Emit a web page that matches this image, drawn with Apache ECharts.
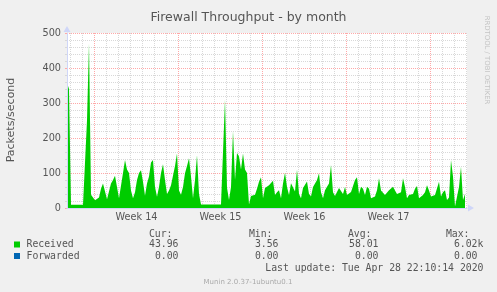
<!DOCTYPE html>
<html><head><meta charset="utf-8">
<script src="https://cdn.jsdelivr.net/npm/echarts@6/dist/echarts.min.js"></script>
<style>html,body{margin:0;padding:0;background:#f0f0f0}#c{width:497px;height:292px}</style>
</head><body><div id="c"></div>
<script>
const chartTitle = 'Firewall Throughput - by month';
const yAxisName = 'Packets/second';
const weekLabels = ['Week 14', 'Week 15', 'Week 16', 'Week 17'];
const stepHours = 4;          // one sample every 4 hours
const spanHours = 800;        // visible time span
const yMax = 500;
// Received packets/second, one value per 4 hours, oldest first
const received = [
  358, 340, 9, 9, 9, 9, 9, 9, 9, 9,
  250, 470, 38, 36, 22, 20, 30, 55, 70, 72,
  25, 22, 70, 80, 92, 60, 28, 30, 100, 137,
  110, 100, 50, 28, 45, 80, 100, 108, 75, 35,
  70, 90, 130, 137, 60, 32, 60, 100, 125, 80,
  40, 50, 65, 60, 120, 156, 50, 38, 60, 99,
  120, 142, 90, 28, 80, 151, 40, 10, 10, 10,
  10, 10, 10, 10, 10, 10, 10, 10, 10, 310,
  58, 23, 60, 220, 80, 157, 147, 110, 156, 110,
  100, 10, 34, 36, 38, 55, 75, 88, 28, 57,
  57, 65, 70, 78, 37, 45, 51, 28, 70, 101,
  60, 37, 71, 76, 47, 109, 40, 28, 57, 60,
  76, 40, 33, 60, 65, 80, 99, 45, 28, 51,
  61, 70, 123, 45, 34, 36, 57, 60, 40, 60,
  37, 37, 46, 50, 80, 88, 40, 61, 55, 37,
  61, 55, 28, 30, 33, 51, 85, 50, 46, 37,
  40, 51, 55, 61, 50, 40, 37, 45, 85, 60,
  28, 37, 35, 40, 55, 63, 28, 30, 37, 45,
  65, 50, 33, 28, 37, 40, 75, 33, 45, 51,
  23, 30, 137, 90, 4, 4, 60, 118, 23, 40
];
const legendNames = ['Received', 'Forwarded'];
const statHeaders = ['Cur:', 'Min:', 'Avg:', 'Max:'];
const receivedStats = ['43.96', '3.56', '58.01', '6.02k'];
const forwardedStats = ['0.00', '0.00', '0.00', '0.00'];
const lastUpdate = 'Last update: Tue Apr 28 22:10:14 2020';
const footerText = 'Munin 2.0.37-1ubuntu0.1';
const watermark = 'RRDTOOL / TOBI OETIKER';

const COLORS = ['#00cc00', '#0066b3'];
const AXIS_COLOR = '#cfd6f8';
const MINOR = '#d8d8d8';
const MAJOR = '#ffa8a8';
const FONT = 'DejaVu Sans';
const MONO = 'DejaVu Sans Mono';
const TXT = '#555555';

const chart = echarts.init(document.getElementById('c'), null, {renderer: 'canvas'});

const PL = 67, PT = 33, PW = 400, PH = 175;
const hidden = {show: false};

const graphics = [];
graphics.push({type: 'text', x: 11, y: 120, rotation: Math.PI / 2,
  style: {text: yAxisName, font: '11px "' + FONT + '"', fill: TXT, align: 'center', verticalAlign: 'middle'}});
graphics.push({type: 'text', x: 487, y: 60, rotation: -Math.PI / 2,
  style: {text: watermark, font: '6.9px "' + FONT + '"', fill: '#c4c4c4', align: 'center', verticalAlign: 'middle'}});
const monoFont = '9.8px "' + MONO + '"';
const headerRight = [172.5, 272.5, 371.5, 469.5];
statHeaders.forEach((h, i) => graphics.push({type: 'text', x: headerRight[i], y: 234,
  style: {text: h, font: monoFont, fill: TXT, align: 'right', verticalAlign: 'middle'}}));
const statRight = [178.5, 278.5, 378.5, 477.5];
const rows = [receivedStats, forwardedStats];
const rowY = [244.5, 256];
legendNames.forEach((n, r) => {
  graphics.push({type: 'rect', shape: {x: 14, y: rowY[r] - 3, width: 6, height: 6}, style: {fill: COLORS[r]}});
  graphics.push({type: 'text', x: 26.5, y: rowY[r], style: {text: n, font: monoFont, fill: TXT, align: 'left', verticalAlign: 'middle'}});
  rows[r].forEach((s, i) => {
    const suffix = /[a-zA-Z]$/.test(s) ? 5.9 : 0;
    graphics.push({type: 'text', x: statRight[i] + suffix, y: rowY[r],
      style: {text: s, font: monoFont, fill: TXT, align: 'right', verticalAlign: 'middle'}});
  });
});
graphics.push({type: 'text', x: 483.5, y: 268.5, style: {text: lastUpdate, font: monoFont, fill: TXT, align: 'right', verticalAlign: 'middle'}});
graphics.push({type: 'text', x: 248, y: 282, style: {text: footerText, font: '7px "' + FONT + '"', fill: '#aaaaaa', align: 'center', verticalAlign: 'middle'}});

const option = {
  animation: false,
  backgroundColor: '#f0f0f0',
  title: {text: chartTitle, left: 'center', top: 6,
    textStyle: {fontFamily: FONT, fontSize: 12.5, fontWeight: 'normal', color: TXT}},
  grid: [
    {left: PL, top: PT, width: PW, height: PH, show: true, backgroundColor: '#ffffff', borderWidth: 0},
    {left: PL + 3.5, top: PT, width: 396, height: PH, show: false},
    {left: PL + 27.5, top: PT, width: 336, height: PH, show: false}
  ],
  xAxis: [
    {gridIndex: 0, type: 'value', position: 'bottom', min: 0, max: spanHours, z: 4,
      axisLine: {show: true, onZero: false, lineStyle: {color: AXIS_COLOR, width: 1}, symbol: ['none', 'triangle'], symbolSize: [7, 6], symbolOffset: [0, 4]},
      axisTick: hidden, axisLabel: hidden, splitLine: hidden},
    {gridIndex: 1, type: 'value', position: 'bottom', min: 0, max: 792, interval: 24, z: 0,
      axisLine: hidden, axisTick: hidden, axisLabel: hidden,
      splitLine: {show: true, lineStyle: {color: MINOR, type: [1, 1], width: 1}}},
    {gridIndex: 2, type: 'category', position: 'bottom', data: weekLabels, boundaryGap: true, z: 1,
      axisLine: hidden, axisTick: hidden,
      axisLabel: {show: true, margin: 4, fontFamily: FONT, fontSize: 9.7, color: TXT},
      splitLine: {show: true, interval: 0, lineStyle: {color: MAJOR, type: [1, 1], width: 1}}}
  ],
  yAxis: [
    {gridIndex: 0, type: 'value', position: 'left', min: 0, max: yMax, z: 4,
      axisLine: {show: true, onZero: false, lineStyle: {color: AXIS_COLOR, width: 1}, symbol: ['none', 'triangle'], symbolSize: [7, 6], symbolOffset: [0, 4]},
      axisTick: hidden, axisLabel: hidden, splitLine: hidden},
    {gridIndex: 0, type: 'value', position: 'left', offset: 0, min: 0, max: yMax, interval: 20, z: 0,
      axisLine: hidden, axisLabel: hidden,
      axisTick: {show: true, length: 2, lineStyle: {color: MINOR}},
      splitLine: {show: true, lineStyle: {color: MINOR, type: [1, 1], width: 1}}},
    {gridIndex: 0, type: 'value', position: 'left', offset: 0, min: 0, max: yMax, interval: 100, z: 1,
      axisLine: hidden,
      axisTick: {show: true, length: 2, lineStyle: {color: MAJOR}},
      axisLabel: {show: true, margin: 6, fontFamily: FONT, fontSize: 9.7, color: TXT},
      splitLine: {show: true, lineStyle: {color: MAJOR, type: [1, 1], width: 1}}},
    {gridIndex: 1, type: 'value', min: 0, max: yMax, show: false},
    {gridIndex: 2, type: 'value', min: 0, max: yMax, show: false}
  ],
  series: [
    {type: 'line', name: legendNames[0], xAxisIndex: 0, yAxisIndex: 0, z: 2,
      data: received.map((v, i) => [i * stepHours, v]),
      symbol: 'none', showSymbol: false,
      lineStyle: {width: 0, color: COLORS[0]},
      itemStyle: {color: COLORS[0]},
      areaStyle: {color: COLORS[0], opacity: 1}}
  ],
  graphic: graphics
};
chart.setOption(option);
</script>
</body></html>
